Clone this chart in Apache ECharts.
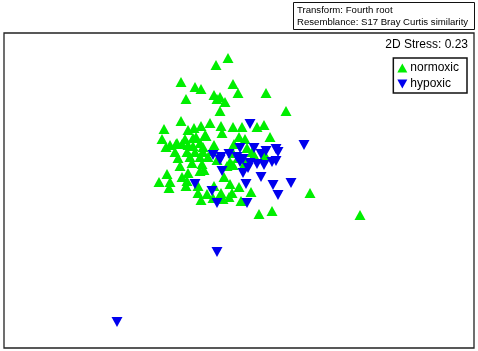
<!DOCTYPE html>
<html><head><meta charset="utf-8">
<script src="https://cdn.jsdelivr.net/npm/echarts@6/dist/echarts.min.js"></script>
<style>html,body{margin:0;padding:0;background:#fff}#c{width:478px;height:351px}</style>
</head><body><div id="c"></div>
<script>
// MDS ordination scores (plot units; y grows downward)
const normoxicX = [228,216,181,195,201,233,238,266,214,220,217,225,186,220,286,181,164,188,194,201,210,221,233,242,257,264,222,206,193,185,239,245,270,162,176,182,193,200,214,234,166,175,187,195,203,212,247,252,254,265,190,200,208,217,230,192,202,180,227,233,245,200,204,188,167,182,224,159,170,187,169,186,198,214,230,239,198,207,221,251,310,201,213,223,229,241,259,272,360,177,205,196,233,178,232,170,203,238,188];
const normoxicY = [58,65,82,87,89,84,93,93,95,97,99,102,99,111,111,121,129,130,128,126,123,126,127,127,127,125,133,136,138,139,137,139,137,139,144,144,146,143,145,144,147,152,152,152,152,151,148,152,155,155,157,157,157,160,162,163,164,166,166,165,163,171,170,173,174,177,177,182,182,181,188,186,186,186,184,187,193,194,193,192,193,200,198,199,197,201,214,211,215,143,135,137,153,158,193,145,147,158,145];
const hypoxicX = [250,304,240,254,266,276,278,213,221,229,237,243,261,220,240,250,257,264,272,276,222,243,248,261,291,195,246,273,212,278,217,247,217,117];
const hypoxicY = [124,145,148,148,151,149,152,155,157,154,157,159,154,160,162,163,164,165,162,161,171,173,168,177,183,184,184,185,191,195,203,203,252,322];
const seriesNames = ['normoxic','hypoxic'];
const headerLines = ['Transform: Fourth root','Resemblance: S17 Bray Curtis similarity'];
const stressText = '2D Stress: 0.23';

const zip = (xs, ys) => xs.map((x, i) => [x, ys[i]]);
const downTri = 'path://M0,0 L10,0 L5,9 Z';
const upTri = 'path://M5,0 L10,9 L0,9 Z';
const chart = echarts.init(document.getElementById('c'));
chart.setOption({
  animation: false,
  grid: {left: 4, top: 33, width: 470, height: 315, show: true, borderColor: '#222', borderWidth: 1.3, backgroundColor: '#fff'},
  xAxis: {type: 'value', min: 4, max: 474, show: false},
  yAxis: {type: 'value', min: 33, max: 348, inverse: true, show: false},
  legend: {
    orient: 'vertical', right: 11, top: 58,
    data: [{name: seriesNames[0], icon: upTri}, {name: seriesNames[1], icon: downTri}],
    itemWidth: 10, itemHeight: 9, itemGap: 4,
    borderColor: '#111', borderWidth: 1.5, padding: [4, 8, 3, 4],
    textStyle: {fontFamily: 'Liberation Sans, Arial', fontSize: 12, color: '#000', padding: [0, 0, 0, -2]}
  },
  graphic: [
    {type: 'rect', left: 293, top: 2, shape: {width: 181, height: 27}, style: {fill: '#fff', stroke: '#111', lineWidth: 1}},
    {type: 'text', left: 297, top: 4, style: {text: headerLines.join('\n'), font: '9.6px "Liberation Sans", Arial', fill: '#000', lineHeight: 12.5}},
    {type: 'text', right: 10, top: 39, style: {text: stressText, font: '12px "Liberation Sans", Arial', fill: '#000'}}
  ],
  series: [
    {name: seriesNames[0], type: 'scatter', data: zip(normoxicX, normoxicY), symbol: upTri, symbolSize: [11, 10], itemStyle: {color: '#00ee00', opacity: 1}},
    {name: seriesNames[1], type: 'scatter', data: zip(hypoxicX, hypoxicY), symbol: downTri, symbolSize: [11, 10], itemStyle: {color: '#0000ee', opacity: 1}}
  ]
});
</script></body></html>
